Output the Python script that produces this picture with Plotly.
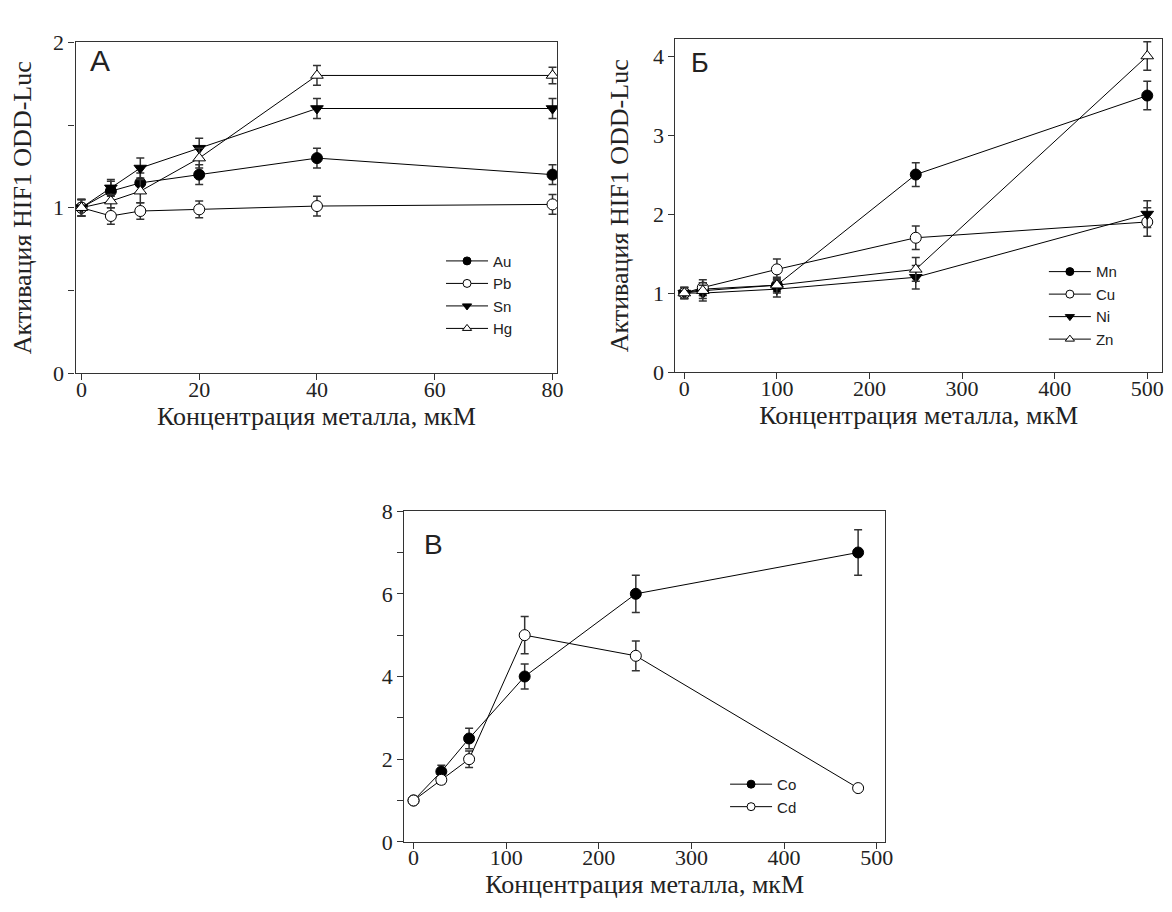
import plotly.graph_objects as go

# ---------------- data ----------------
xA = [0, 5, 10, 20, 40, 80]
Au = [1.0, 1.10, 1.15, 1.20, 1.30, 1.20]
Au_err = [0.05, 0.06, 0.06, 0.06, 0.06, 0.06]
Pb = [1.0, 0.95, 0.98, 0.99, 1.01, 1.02]
Pb_err = [0.05, 0.05, 0.05, 0.05, 0.06, 0.06]
Sn = [1.0, 1.12, 1.24, 1.36, 1.60, 1.60]
Sn_err = [0.05, 0.05, 0.06, 0.06, 0.06, 0.06]
Hg = [1.0, 1.04, 1.10, 1.30, 1.80, 1.80]
Hg_err = [0.05, 0.04, 0.07, 0.06, 0.06, 0.05]

xB = [0, 20, 100, 250, 500]
Mn = [1.0, 1.05, 1.10, 2.50, 3.50]
Mn_err = [0.07, 0.08, 0.08, 0.15, 0.18]
Cu = [1.0, 1.07, 1.30, 1.70, 1.90]
Cu_err = [0.07, 0.10, 0.13, 0.15, 0.18]
Ni = [1.0, 1.00, 1.05, 1.20, 2.00]
Ni_err = [0.07, 0.10, 0.10, 0.15, 0.17]
Zn = [1.0, 1.03, 1.10, 1.30, 4.00]
Zn_err = [0.07, 0.10, 0.10, 0.15, 0.18]

xC = [0, 30, 60, 120, 240, 480]
Co = [1.0, 1.7, 2.5, 4.0, 6.0, 7.0]
Co_err = [0.08, 0.15, 0.25, 0.30, 0.45, 0.55]
Cd = [1.0, 1.5, 2.0, 5.0, 4.5, 1.3]
Cd_err = [0.08, 0.10, 0.20, 0.45, 0.36, 0.0]

x_title = "Концентрация металла, мкМ"
y_title = "Активация HIF1 ODD-Luc"

W, H = 1172, 912

fig = go.Figure()

def add(x, y, err, name, symbol, filled, xa, ya, legend):
    fill = "black" if filled else "white"
    fig.add_trace(go.Scatter(
        x=x, y=y, name=name, mode="lines+markers",
        xaxis=xa, yaxis=ya, showlegend=False,
        line=dict(color="black", width=1),
        marker=dict(symbol=symbol, size=11, color=fill,
                    line=dict(color="black", width=1)),
        error_y=dict(type="data", array=err, visible=True,
                     color="#333333", thickness=1.5, width=4),
    ))
    # legend entry (smaller symbol, as in the reference key)
    fig.add_trace(go.Scatter(
        x=[None], y=[None], name=name, mode="lines+markers",
        xaxis=xa, yaxis=ya, legend=legend, showlegend=True,
        line=dict(color="black", width=1),
        marker=dict(symbol=symbol, size=8, color=fill,
                    line=dict(color="black", width=1)),
    ))

add(xA, Au, Au_err, "Au", "circle", True, "x", "y", "legend")
add(xA, Pb, Pb_err, "Pb", "circle", False, "x", "y", "legend")
add(xA, Sn, Sn_err, "Sn", "triangle-down", True, "x", "y", "legend")
add(xA, Hg, Hg_err, "Hg", "triangle-up", False, "x", "y", "legend")

add(xB, Mn, Mn_err, "Mn", "circle", True, "x2", "y2", "legend2")
add(xB, Cu, Cu_err, "Cu", "circle", False, "x2", "y2", "legend2")
add(xB, Ni, Ni_err, "Ni", "triangle-down", True, "x2", "y2", "legend2")
add(xB, Zn, Zn_err, "Zn", "triangle-up", False, "x2", "y2", "legend2")

add(xC, Co, Co_err, "Co", "circle", True, "x3", "y3", "legend3")
add(xC, Cd, Cd_err, "Cd", "circle", False, "x3", "y3", "legend3")

def px_x(a, b):
    return [a / W, b / W]

def px_y(top, bottom):
    return [1 - bottom / H, 1 - top / H]

tickfont = dict(family="Liberation Serif", size=22, color="#222")
titlefont = dict(family="Liberation Serif", size=26, color="#222")

def xaxis(domain, rng, tickvals, anchor):
    return dict(domain=domain, range=rng, anchor=anchor,
                tickvals=tickvals, ticks="outside", ticklen=6, tickwidth=1,
                tickcolor="#333", showline=True, linecolor="#333", linewidth=1.2,
                mirror=True, showgrid=False, zeroline=False,
                tickfont=tickfont, ticklabelstandoff=-10,
                title=dict(text=x_title, font=titlefont, standoff=0))

def yaxis(domain, rng, tickvals, ticktext, anchor, title=True):
    d = dict(domain=domain, range=rng, anchor=anchor,
             tickvals=tickvals, ticktext=ticktext, ticks="outside", ticklen=6,
             tickwidth=1, tickcolor="#333", showline=True, linecolor="#333",
             linewidth=1.2, mirror=True, showgrid=False, zeroline=False,
             tickfont=tickfont)
    if title:
        d["title"] = dict(text=y_title, font=titlefont, standoff=16)
    return d

legend_common = dict(font=dict(family="Liberation Sans", size=15, color="#222"),
                     bgcolor="rgba(0,0,0,0)", borderwidth=0, itemwidth=42,
                     xanchor="left", yanchor="top", tracegroupgap=0)

fig.update_layout(
    width=W, height=H,
    margin=dict(l=0, r=0, t=0, b=0),
    paper_bgcolor="white", plot_bgcolor="white",
    showlegend=True,
    xaxis=xaxis(px_x(68, 553), [-1.0, 80.8], [0, 20, 40, 60, 80], "y"),
    yaxis=yaxis(px_y(23, 363), [0, 2], [0, 0.5, 1, 1.5, 2],
                ["0", "", "1", "", "2"], "x"),
    xaxis2=xaxis(px_x(672, 1162), [-9.6, 516], [0, 100, 200, 300, 400, 500], "y2"),
    yaxis2=yaxis(px_y(20, 362), [0, 4.21], [0, 1, 2, 3, 4],
                 ["0", "1", "2", "3", "4"], "x2"),
    xaxis3=xaxis(px_x(399, 883), [-10, 509], [0, 100, 200, 300, 400, 500], "y3"),
    yaxis3=yaxis(px_y(505, 845), [0, 8], list(range(9)),
                 ["0", "", "2", "", "4", "", "6", "", "8"], "x3", title=False),
    legend=dict(x=436 / W, y=1 - 231 / H, **legend_common),
    legend2=dict(x=1043 / W, y=1 - 242 / H, **legend_common),
    legend3=dict(x=722 / W, y=1 - 769 / H, **legend_common),
)

fig.add_annotation(text="A", xref="x domain", yref="y domain", x=0.026, y=0.946,
                   xanchor="left", yanchor="middle", showarrow=False,
                   font=dict(family="Liberation Sans", size=30, color="#222"))
fig.add_annotation(text="Б", xref="x2 domain", yref="y2 domain", x=0.028, y=0.93,
                   xanchor="left", yanchor="middle", showarrow=False,
                   font=dict(family="Liberation Sans", size=27, color="#222"))
fig.add_annotation(text="B", xref="x3 domain", yref="y3 domain", x=0.036, y=0.9,
                   xanchor="left", yanchor="middle", showarrow=False,
                   font=dict(family="Liberation Sans", size=28, color="#222"))

fig.write_html("out.html")
